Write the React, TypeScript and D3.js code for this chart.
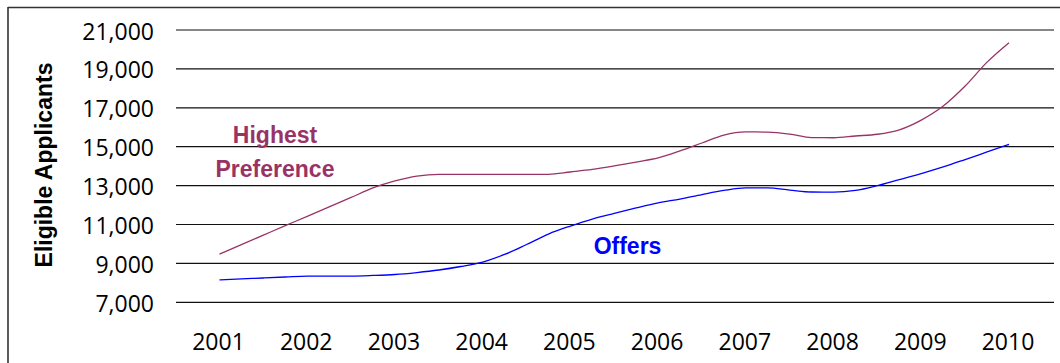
import React from "react";
import * as d3 from "d3";

// Quarterly periods (fractional years)
const periods: number[] = [
  2001, 2001.25, 2001.5, 2001.75, 2002, 2002.25, 2002.5, 2002.75,
  2003, 2003.25, 2003.5, 2003.75, 2004, 2004.25, 2004.5, 2004.75,
  2005, 2005.25, 2005.5, 2005.75, 2006, 2006.25, 2006.5, 2006.75,
  2007, 2007.25, 2007.5, 2007.75, 2008, 2008.25, 2008.5, 2008.75,
  2009, 2009.25, 2009.5, 2009.75, 2010,
];

const highestPreference: number[] = [
  9480, 9970, 10455, 10940, 11420, 11910, 12390, 12880,
  13240, 13490, 13580, 13580, 13580, 13580, 13580, 13580,
  13700, 13830, 14010, 14210, 14420, 14780, 15190, 15600,
  15760, 15750, 15650, 15470, 15460, 15550, 15640, 15870,
  16370, 17090, 18120, 19350, 20350,
];

const offers: number[] = [
  8150, 8200, 8250, 8300, 8350, 8350, 8350, 8380,
  8430, 8530, 8660, 8840, 9070, 9460, 9970, 10510,
  10920, 11280, 11570, 11850, 12110, 12310, 12540, 12750,
  12880, 12880, 12770, 12670, 12660, 12750, 13000, 13310,
  13620, 13960, 14340, 14730, 15120,
];

const yearLabels: number[] = [2001, 2002, 2003, 2004, 2005, 2006, 2007, 2008, 2009, 2010];
const yTicks: number[] = [7000, 9000, 11000, 13000, 15000, 17000, 19000, 21000];

const W = 1060;
const H = 363;
const PLUM = "#993366";
const BLUE = "#0000FF";

export default function App() {
  const x = d3.scaleLinear().domain([2001, 2010]).range([219.5, 1009]);
  const y = d3.scaleLinear().domain([7000, 21000]).range([302.3, 30]);
  const fmt = d3.format(",");

  const line = d3
    .line<number>()
    .x((_, i) => x(periods[i]))
    .y((d) => y(d))
    .curve(d3.curveMonotoneX);

  const gridX0 = 176;
  const gridX1 = 1054;

  return (
    <svg
      width={W}
      height={H}
      style={{ position: "absolute", left: 0, top: 0, background: "#fff" }}
    >
      <rect x={0} y={0} width={W} height={H} fill="#fff" />
      {/* frame */}
      <line x1={8} y1={7.5} x2={W} y2={7.5} stroke="#333" strokeWidth={1.6} />
      <line x1={8} y1={7} x2={8} y2={H} stroke="#333" strokeWidth={1.6} />

      {/* gridlines */}
      {yTicks.map((t) => (
        <line
          key={t}
          x1={gridX0}
          x2={gridX1}
          y1={y(t)}
          y2={y(t)}
          stroke="#111"
          strokeWidth={1.2}
        />
      ))}

      {/* y tick labels */}
      {yTicks.map((t) => (
        <text
          key={"l" + t}
          x={154}
          y={y(t) + 9.5}
          textAnchor="end"
          fontFamily="'Open Sans', sans-serif"
          fontSize={23}
          fill="#000"
        >
          {fmt(t)}
        </text>
      ))}

      {/* x labels */}
      {yearLabels.map((yr) => (
        <text
          key={yr}
          x={x(yr) - 1}
          y={350}
          textAnchor="middle"
          fontFamily="'Open Sans', sans-serif"
          fontSize={23}
          fill="#000"
        >
          {yr}
        </text>
      ))}

      {/* y title */}
      <text
        transform="translate(52,165) rotate(-90)"
        textAnchor="middle"
        fontFamily="'Liberation Sans', Arial, sans-serif"
        fontWeight="bold"
        fontSize={23}
        fill="#000"
      >
        Eligible Applicants
      </text>

      {/* lines */}
      <path d={line(highestPreference) || ""} fill="none" stroke={PLUM} strokeWidth={1.3} />
      <path d={line(offers) || ""} fill="none" stroke={BLUE} strokeWidth={1.3} />

      {/* series labels */}
      <text
        x={275}
        y={143}
        textAnchor="middle"
        fontFamily="'Liberation Sans', Arial, sans-serif"
        fontWeight="bold"
        fontSize={23}
        fill={PLUM}
      >
        Highest
      </text>
      <text
        x={275}
        y={177}
        textAnchor="middle"
        fontFamily="'Liberation Sans', Arial, sans-serif"
        fontWeight="bold"
        fontSize={23}
        fill={PLUM}
      >
        Preference
      </text>
      <text
        x={627.5}
        y={253.5}
        textAnchor="middle"
        fontFamily="'Liberation Sans', Arial, sans-serif"
        fontWeight="bold"
        fontSize={23}
        fill={BLUE}
      >
        Offers
      </text>
    </svg>
  );
}
